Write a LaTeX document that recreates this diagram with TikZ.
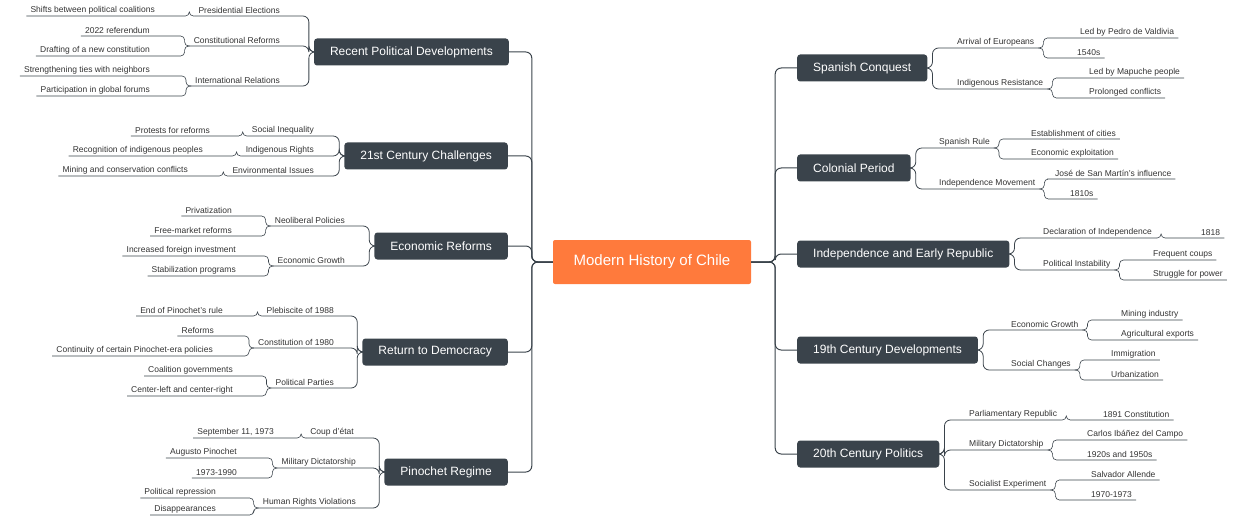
\documentclass[tikz,border=0pt]{standalone}
\usepackage{fontspec}
\setmainfont{Liberation Sans}
\usepackage{tikz}

\definecolor{boxc}{HTML}{3A434B}
\definecolor{linec}{HTML}{3A434B}
\definecolor{rootc}{HTML}{FF7A3C}
\definecolor{leafc}{HTML}{333333}

\tikzset{
  root/.style={fill=rootc, text=white, rounded corners=2pt, minimum width=198pt, minimum height=44pt, font=\fontsize{15}{17}\selectfont},
  topic/.style={fill=boxc, text=white, rounded corners=3pt, minimum height=27pt, inner xsep=16pt, font=\fontsize{12}{14}\selectfont},
  rs/.style={anchor=south west, inner xsep=4pt, inner ysep=2pt, text=leafc, font=\fontsize{8.5}{10}\selectfont},
  ls/.style={anchor=south east, inner xsep=4pt, inner ysep=2pt, text=leafc, font=\fontsize{8.5}{10}\selectfont},
  conn/.style={draw=linec, line width=1pt, rounded corners=6pt},
  twig/.style={draw=linec, line width=0.6pt, rounded corners=4pt}
}

\begin{document}
\begin{tikzpicture}[x=1pt, y=-1pt]
    \useasboundingbox (0,0) rectangle (1240,516);

    \node[root] at (652,262) (chile) {Modern History of Chile};

    % right branches
    \node[topic, anchor=west] at (797,68) (conquest) {Spanish Conquest};
    \node[topic, anchor=west] at (797,168) (colonial) {Colonial Period};
    \node[topic, anchor=west] at (797,254) (republic) {Independence and Early Republic};
    \node[topic, anchor=west] at (797,350) (c19) {19th Century Developments};
    \node[topic, anchor=west] at (797,454) (c20) {20th Century Politics};

    % left branches
    \node[topic, anchor=east] at (509,52) (recent) {Recent Political Developments};
    \node[topic, anchor=east] at (508,156) (c21) {21st Century Challenges};
    \node[topic, anchor=east] at (508,246) (econ) {Economic Reforms};
    \node[topic, anchor=east] at (508,352) (democracy) {Return to Democracy};
    \node[topic, anchor=east] at (508,472) (pinochet) {Pinochet Regime};

    \foreach \t in {conquest, colonial, republic, c19, c20}
        \draw[conn] (chile.east) -- ++(24,0) |- (\t.west);
    \foreach \t in {recent, c21, econ, democracy, pinochet}
        \draw[conn] (chile.west) -- ++(-21,0) |- (\t.east);

    % Spanish Conquest
    \node[rs] at (953,48) (arrival) {Arrival of Europeans};
    \node[rs] at (953,89) (resist) {Indigenous Resistance};
    \node[rs] at (1076,38) (valdivia) {Led by Pedro de Valdivia};
    \node[rs] at (1073,58) (y1540) {1540s};
    \node[rs] at (1085,78) (mapuche) {Led by Mapuche people};
    \node[rs] at (1085,98) (prolonged) {Prolonged conflicts};

    % Colonial Period
    \node[rs] at (935,148) (rule) {Spanish Rule};
    \node[rs] at (935,189) (indmov) {Independence Movement};
    \node[rs] at (1027,139) (cities) {Establishment of cities};
    \node[rs] at (1027,159) (exploit) {Economic exploitation};
    \node[rs] at (1051,179) (sanmartin) {José de San Martín's influence};
    \node[rs] at (1066,199) (y1810) {1810s};

    % Independence and Early Republic
    \node[rs] at (1039,238) (declare) {Declaration of Independence};
    \node[rs] at (1039,270) (instab) {Political Instability};
    \node[rs] at (1197,238) (y1818) {1818};
    \node[rs] at (1149,260) (coups) {Frequent coups};
    \node[rs] at (1149,280) (struggle) {Struggle for power};

    % 19th Century Developments
    \node[rs] at (1007,330) (egrowth) {Economic Growth};
    \node[rs] at (1007,370) (social) {Social Changes};
    \node[rs] at (1117,320) (mining) {Mining industry};
    \node[rs] at (1117,340) (agri) {Agricultural exports};
    \node[rs] at (1107,360) (immig) {Immigration};
    \node[rs] at (1107,380) (urban) {Urbanization};

    % 20th Century Politics
    \node[rs] at (965,420) (parl) {Parliamentary Republic};
    \node[rs] at (965,450) (mildict) {Military Dictatorship};
    \node[rs] at (965,490) (socexp) {Socialist Experiment};
    \node[rs] at (1099,420) (c1891) {1891 Constitution};
    \node[rs] at (1083,440) (ibanez) {Carlos Ibáñez del Campo};
    \node[rs] at (1083,460) (y1920) {1920s and 1950s};
    \node[rs] at (1087,480) (allende) {Salvador Allende};
    \node[rs] at (1087,500) (y1970) {1970-1973};

    % Recent Political Developments
    \node[ls] at (284,16) (elect) {Presidential Elections};
    \node[ls] at (284,46) (consref) {Constitutional Reforms};
    \node[ls] at (284,86) (intrel) {International Relations};
    \node[ls] at (159,16) (shifts) {Shifts between political coalitions};
    \node[ls] at (154,36) (refer) {2022 referendum};
    \node[ls] at (154,56) (drafting) {Drafting of a new constitution};
    \node[ls] at (154,76) (ties) {Strengthening ties with neighbors};
    \node[ls] at (154,96) (forums) {Participation in global forums};

    % 21st Century Challenges
    \node[ls] at (318,136) (inequal) {Social Inequality};
    \node[ls] at (318,156) (indrights) {Indigenous Rights};
    \node[ls] at (318,176) (environ) {Environmental Issues};
    \node[ls] at (214,136) (protests) {Protests for reforms};
    \node[ls] at (207,156) (recog) {Recognition of indigenous peoples};
    \node[ls] at (192,176) (conserv) {Mining and conservation conflicts};

    % Economic Reforms
    \node[ls] at (349,226) (neolib) {Neoliberal Policies};
    \node[ls] at (349,266) (egrowthl) {Economic Growth};
    \node[ls] at (236,216) (privat) {Privatization};
    \node[ls] at (236,236) (freemkt) {Free-market reforms};
    \node[ls] at (240,256) (foreign) {Increased foreign investment};
    \node[ls] at (240,276) (stabil) {Stabilization programs};

    % Return to Democracy
    \node[ls] at (338,316) (pleb) {Plebiscite of 1988};
    \node[ls] at (338,348) (const80) {Constitution of 1980};
    \node[ls] at (338,388) (parties) {Political Parties};
    \node[ls] at (227,316) (endrule) {End of Pinochet's rule};
    \node[ls] at (218,336) (reforms) {Reforms};
    \node[ls] at (217,356) (contin) {Continuity of certain Pinochet-era policies};
    \node[ls] at (237,376) (coalit) {Coalition governments};
    \node[ls] at (237,396) (centre) {Center-left and center-right};

    % Pinochet Regime
    \node[ls] at (358,438) (coup) {Coup d'état};
    \node[ls] at (360,468) (mildictl) {Military Dictatorship};
    \node[ls] at (360,508) (hrights) {Human Rights Violations};
    \node[ls] at (278,438) (sept) {September 11, 1973};
    \node[ls] at (241,458) (augusto) {Augusto Pinochet};
    \node[ls] at (241,478) (y1973) {1973-1990};
    \node[ls] at (220,498) (repress) {Political repression};
    \node[ls] at (220,515) (disapp) {Disappearances};

    % right connectors
    \foreach \p/\c in {conquest/arrival, conquest/resist, colonial/rule, colonial/indmov,
        republic/declare, republic/instab, c19/egrowth, c19/social,
        c20/parl, c20/mildict, c20/socexp}
        \draw[conn, line width=0.8pt] (\p.east) -- ++(5,0) |- (\c.south west) -- (\c.south east);
    \foreach \p/\c in {arrival/valdivia, arrival/y1540, resist/mapuche, resist/prolonged,
        rule/cities, rule/exploit, indmov/sanmartin, indmov/y1810,
        declare/y1818, instab/coups, instab/struggle, egrowth/mining, egrowth/agri,
        social/immig, social/urban, parl/c1891, mildict/ibanez, mildict/y1920,
        socexp/allende, socexp/y1970}
        \draw[twig] (\p.south east) -- ++(5,0) |- (\c.south west) -- (\c.south east);

    % left connectors
    \foreach \p/\c in {recent/elect, recent/consref, recent/intrel,
        c21/inequal, c21/indrights, c21/environ, econ/neolib, econ/egrowthl,
        democracy/pleb, democracy/const80, democracy/parties,
        pinochet/coup, pinochet/mildictl, pinochet/hrights}
        \draw[conn, line width=0.8pt] (\p.west) -- ++(-5,0) |- (\c.south east) -- (\c.south west);
    \foreach \p/\c in {elect/shifts, consref/refer, consref/drafting, intrel/ties, intrel/forums,
        inequal/protests, indrights/recog, environ/conserv,
        neolib/privat, neolib/freemkt, egrowthl/foreign, egrowthl/stabil,
        pleb/endrule, const80/reforms, const80/contin, parties/coalit, parties/centre,
        coup/sept, mildictl/augusto, mildictl/y1973, hrights/repress, hrights/disapp}
        \draw[twig] (\p.south west) -- ++(-5,0) |- (\c.south east) -- (\c.south west);
\end{tikzpicture}
\end{document}
